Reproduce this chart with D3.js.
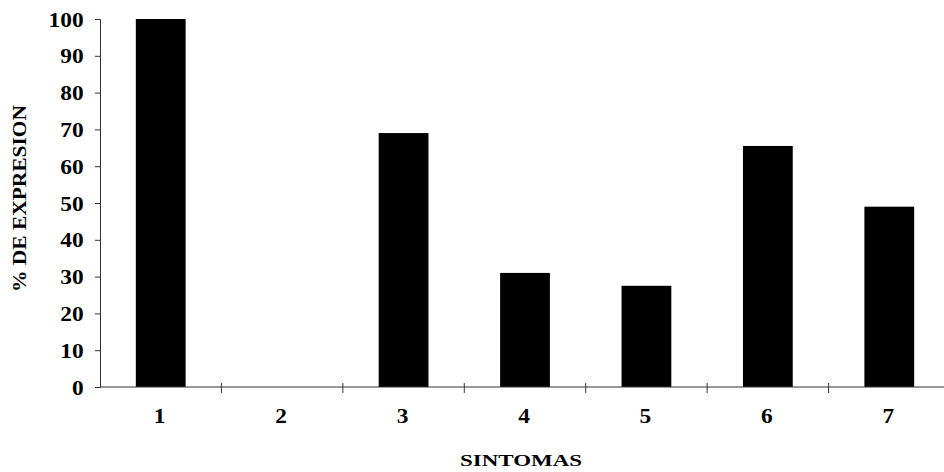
<!DOCTYPE html>
<html>
<head>
<meta charset="utf-8">
<script src="https://cdn.jsdelivr.net/npm/d3@7"></script>
<style>
  html, body { margin: 0; padding: 0; background: #fff; }
  svg { display: block; }
  text { font-family: "Liberation Serif", "Times New Roman", serif; font-weight: bold; fill: #000; }
</style>
</head>
<body>
<svg id="chart" width="944" height="472"></svg>
<script>
// Síntomas (categorías) y porcentaje de expresión de cada uno
const categories = ["1", "2", "3", "4", "5", "6", "7"];
const values = [100, 0, 69, 31, 27.5, 65.5, 49];
const yTicks = [0, 10, 20, 30, 40, 50, 60, 70, 80, 90, 100];

const svg = d3.select("#chart");
const margin = { left: 100, top: 19, right: -6, bottom: 85 };
const width = 944 - margin.left - margin.right;
const height = 472 - margin.top - margin.bottom;
const stretch = 1.17; // rótulos ensanchados horizontalmente

const g = svg.append("g").attr("transform", `translate(${margin.left},${margin.top})`);

const x = d3.scaleBand().domain(categories).range([0, width]).paddingInner(0.59).paddingOuter(0.295);
const y = d3.scaleLinear().domain([0, 100]).range([height, 0]);

// Barras
g.selectAll("rect.bar")
  .data(categories.map((c, i) => ({ c, v: values[i] })))
  .join("rect")
  .attr("class", "bar")
  .attr("x", d => x(d.c))
  .attr("width", x.bandwidth())
  .attr("y", d => y(d.v))
  .attr("height", d => height - y(d.v))
  .attr("fill", "#000");

// Eje Y
const yAxis = g.append("g")
  .call(d3.axisLeft(y).tickValues(yTicks).tickSize(5).tickPadding(9));
yAxis.select(".domain").attr("stroke", "#333").attr("stroke-width", 1);
yAxis.selectAll(".tick line").attr("stroke", "#333");
yAxis.selectAll(".tick text")
  .style("font-size", "20px")
  .attr("dy", "0.35em")
  .attr("x", -14)
  .attr("transform", `scale(${stretch},1)`);

// Eje X: marcas entre categorías, cruzando la línea base
const step = x.step();
const xAxis = g.append("g").attr("transform", `translate(0,${height})`);
xAxis.append("line").attr("x1", 0).attr("x2", width).attr("stroke", "#333").attr("stroke-width", 1);
xAxis.selectAll("line.tk")
  .data(d3.range(1, categories.length))
  .join("line")
  .attr("class", "tk")
  .attr("x1", i => i * step).attr("x2", i => i * step)
  .attr("y1", -4).attr("y2", 6)
  .attr("stroke", "#333");
xAxis.selectAll("text.lbl")
  .data(categories)
  .join("text")
  .attr("class", "lbl")
  .attr("transform", d => `translate(${x(d) + x.bandwidth() / 2 - 1},36) scale(${stretch},1)`)
  .attr("text-anchor", "middle")
  .style("font-size", "20px")
  .text(d => d);

// Títulos de ejes
svg.append("text")
  .attr("x", 460).attr("y", 466)
  .attr("textLength", 122)
  .attr("lengthAdjust", "spacingAndGlyphs")
  .style("font-size", "16px")
  .text("SINTOMAS");

svg.append("text")
  .attr("transform", "translate(26,292) rotate(-90)")
  .attr("textLength", 187)
  .attr("lengthAdjust", "spacingAndGlyphs")
  .style("font-size", "19px")
  .text("% DE EXPRESION");
</script>
</body>
</html>
